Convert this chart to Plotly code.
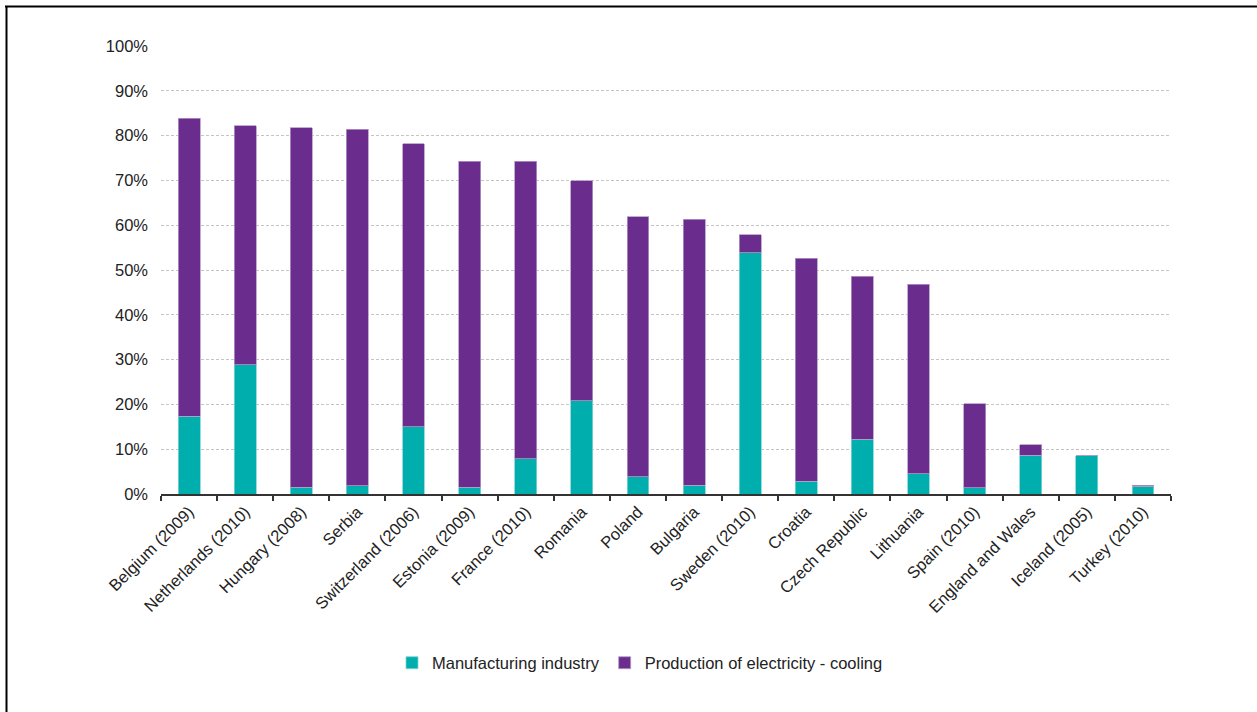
import plotly.graph_objects as go

categories = ["Belgium (2009)", "Netherlands (2010)", "Hungary (2008)", "Serbia",
              "Switzerland (2006)", "Estonia (2009)", "France (2010)", "Romania",
              "Poland", "Bulgaria", "Sweden (2010)", "Croatia", "Czech Republic",
              "Lithuania", "Spain (2010)", "England and Wales", "Iceland (2005)",
              "Turkey (2010)"]
totals = [83.9, 82.2, 81.7, 81.4, 78.2, 74.3, 74.3, 69.9, 61.9, 61.3, 57.9, 52.6,
          48.6, 46.8, 20.2, 11.0, 8.5, 2.0]
manufacturing = [17.4, 28.9, 1.5, 1.8, 15.0, 1.5, 7.9, 20.8, 3.8, 2.0, 53.8, 2.9,
                 12.2, 4.5, 1.4, 8.7, 8.5, 1.7]
cooling = [round(t - m, 1) for t, m in zip(totals, manufacturing)]

TEAL = "#00AEAD"
PURPLE = "#6A2C8D"

fig = go.Figure()
fig.add_trace(go.Bar(x=categories, y=manufacturing, name="Manufacturing industry",
                     marker=dict(color=TEAL, line=dict(color="#7FD4D4", width=0.8)),
                     width=0.39))
fig.add_trace(go.Bar(x=categories, y=cooling, name="Production of electricity - cooling",
                     marker=dict(color=PURPLE, line=dict(color="#B49AC6", width=0.8)),
                     width=0.39))

L, R, T, B = 161, 1171, 46, 494
W, H = 1257, 712

def px(x):
    return (x - L) / (R - L)

def py(y):
    return (B - y) / (B - T)

FS = 16.5
fig.update_layout(
    barmode="stack",
    width=W, height=H,
    margin=dict(l=L, r=W - R, t=T, b=H - B, pad=0),
    paper_bgcolor="white", plot_bgcolor="white",
    font=dict(family="Liberation Sans, Arial, sans-serif", size=FS, color="#222222"),
    showlegend=True,
    legend=dict(orientation="h", x=px(640), xanchor="center", y=py(663), yanchor="middle",
                font=dict(size=FS, color="#222222"), traceorder="normal",
                itemwidth=30, tracegroupgap=0),
    xaxis=dict(showline=True, linecolor="#333333", linewidth=1.5,
               ticks="outside", ticklen=5, tickcolor="#333333", tickwidth=1.5,
               tickson="boundaries", tickangle=-45, showgrid=False,
               tickfont=dict(size=FS, color="#222222")),
    yaxis=dict(range=[0, 100], dtick=10, ticksuffix="%", showline=False,
               showgrid=True, gridcolor="#C4C4C4", griddash="3px,2px", gridwidth=1,
               zeroline=False, ticks="", ticklabelstandoff=12,
               tickfont=dict(size=FS, color="#222222")),
    shapes=[
        dict(type="line", xref="paper", yref="paper", x0=px(5), x1=px(1257),
             y0=py(6.5), y1=py(6.5), line=dict(color="black", width=2)),
        dict(type="line", xref="paper", yref="paper", x0=px(6.5), x1=px(6.5),
             y0=py(6), y1=py(712), line=dict(color="black", width=2)),
    ],
)

fig.write_html("out.html")
